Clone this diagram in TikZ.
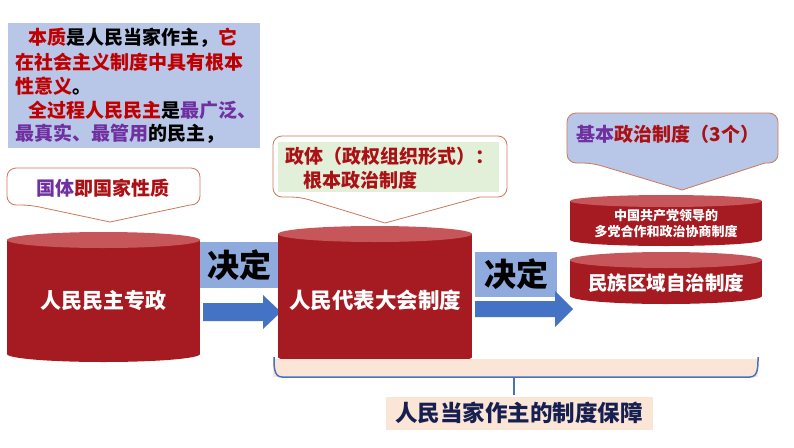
\documentclass[tikz,border=0pt]{standalone}
\usepackage{fontspec}
\setmainfont{Noto Sans CJK SC}
\usetikzlibrary{positioning}

\definecolor{cylbody}{RGB}{165,27,33}
\definecolor{cyltop}{RGB}{198,86,90}
\definecolor{boxblue}{RGB}{184,198,232}
\definecolor{decideblue}{RGB}{143,170,220}
\definecolor{arrowblue}{RGB}{68,114,196}
\definecolor{calloutline}{RGB}{205,120,90}
\definecolor{calloutgreen}{RGB}{226,239,217}
\definecolor{peach}{RGB}{251,229,214}
\definecolor{textred}{RGB}{192,0,0}
\definecolor{darkred}{RGB}{170,16,20}
\definecolor{textpurple}{RGB}{112,48,160}
\definecolor{navy}{RGB}{22,32,80}

\tikzset{
  txt/.style={inner sep=0pt, font=\bfseries\fontsize{19}{22}\selectfont},
  cyltxt/.style={txt, text=white},
  callout/.style={draw=calloutline, line width=0.8pt},
}

\begin{document}
\begin{tikzpicture}[x=1pt, y=-1pt]
\useasboundingbox (0,0) rectangle (794,447);

% note box top left
\fill[boxblue] (8,23) rectangle (260,148);
\node[txt, anchor=west] (n1) at (28,38) {\textcolor{textred}{本质}是人民当家作主，\textcolor{textred}{它}};
\node[txt, anchor=west, text=textred] (n2) at (15,62) {在社会主义制度中具有根本};
\node[txt, anchor=west] (n3) at (15,86) {\textcolor{textred}{性意义}。};
\node[txt, anchor=west] (n4) at (28,110) {\textcolor{textred}{全过程人民民主}是\textcolor{textpurple}{最广泛、}};
\node[txt, anchor=west] (n5) at (15,134) {\textcolor{textpurple}{最真实、最管用}的民主，};

% callouts
\draw[callout, fill=white] (30,205) -- (110,222) -- (190,205) [rounded corners=9pt] -- (200,205) -- (200,168) -- (7,168) -- (7,205) -- cycle;
\node[txt] (guoti) at (103,188) {\textcolor{textpurple}{国体}\textcolor{darkred}{即国家性质}};

\draw[callout, fill=white] (300,197) -- (385,223) -- (480,197) [rounded corners=9pt] -- (507,197) -- (507,136) -- (273,136) -- (273,197) -- cycle;
\fill[calloutgreen] (278,142) rectangle (499,192);
\node[txt, anchor=west, text=darkred] (zhengti) at (285,156) {政体（政权组织形式）：};
\node[txt, anchor=west, text=darkred] (genben) at (303,180) {根本政治制度};

\draw[callout, fill=boxblue] (592,163) -- (682,190) -- (765,163) [rounded corners=9pt] -- (778,163) -- (778,113) -- (567,113) -- (567,163) -- cycle;
\node[txt] (jiben) at (668,134) {\textcolor{textpurple}{基本}\textcolor{darkred}{政治制度（3个）}};

% decide boxes and arrows
\fill[decideblue] (200,242) rectangle (280,288);
\node[txt, font=\bfseries\fontsize{32}{34}\selectfont] (jd1) at (239,265) {决定};
\fill[arrowblue] (203,303) -- (263,303) -- (263,295) -- (281,312) -- (263,329) -- (263,321) -- (203,321) -- cycle;

\fill[decideblue] (475,252) rectangle (557,297);
\node[txt, font=\bfseries\fontsize{32}{34}\selectfont] (jd2) at (516,274) {决定};
\fill[arrowblue] (475,301) -- (555,301) -- (555,291) -- (573,309) -- (555,327) -- (555,317) -- (475,317) -- cycle;

% cylinders
\fill[cylbody] (7,240) rectangle (200,354);
\fill[cylbody] (103.5,354) ellipse (96.5pt and 8pt);
\fill[cyltop] (103.5,240) ellipse (96.5pt and 8pt);
\node[cyltxt, font=\bfseries\fontsize{21}{24}\selectfont] (zhuanzheng) at (103,301) {人民民主专政};

\fill[cylbody] (278,234) rectangle (472,357);
\fill[cylbody] (375,357) ellipse (97pt and 8pt);
\fill[cyltop] (375,234) ellipse (97pt and 8pt);
\node[cyltxt, font=\bfseries\fontsize{21.5}{24}\selectfont] (renda) at (375,300) {人民代表大会制度};

\fill[cylbody] (570,201) rectangle (762,240);
\fill[cylbody] (666,240) ellipse (96pt and 6pt);
\fill[cyltop] (666,201) ellipse (96pt and 6pt);
\node[cyltxt, font=\bfseries\fontsize{13}{16}\selectfont, align=center] (duodang) at (666,224) {中国共产党领导的\\多党合作和政治协商制度};

\fill[cylbody] (570,260) rectangle (762,296);
\fill[cylbody] (666,296) ellipse (96pt and 8pt);
\fill[cyltop] (666,260) ellipse (96pt and 8pt);
\node[cyltxt, font=\bfseries\fontsize{19.5}{22}\selectfont] (minzu) at (666,283) {民族区域自治制度};

% brace
\fill[peach] (273,359) rectangle (758,377);
\draw[arrowblue, line width=1.5pt] (274,357) to[out=-90, in=180] (282,377) -- (750,377) to[out=0, in=-90] (758,357);
\draw[arrowblue, line width=1.5pt] (514,377) -- (514,395);
\fill[peach] (386,397) rectangle (653,430);
\node[txt, text=navy, font=\bfseries\fontsize{22.5}{26}\selectfont] (baozhang) at (519,413) {人民当家作主的制度保障};
\end{tikzpicture}
\end{document}
